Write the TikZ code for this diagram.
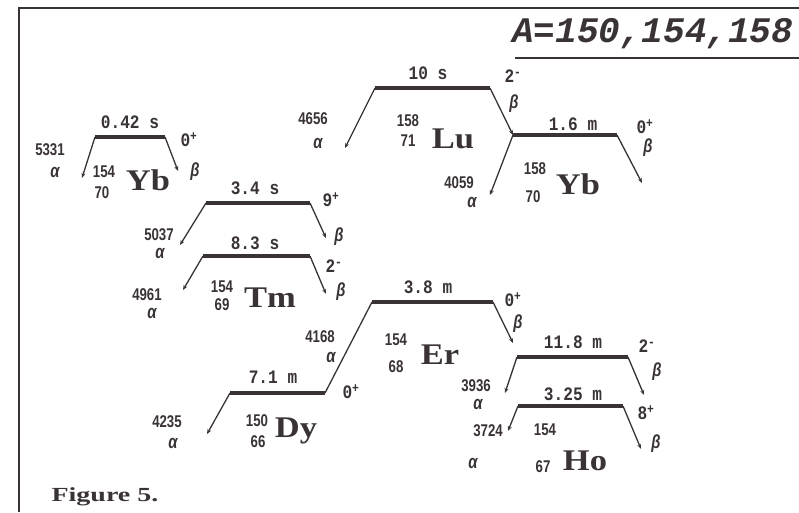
\documentclass[tikz,border=0pt]{standalone}
\usepackage{fontspec}
\setmainfont{Liberation Serif}
\newfontfamily\monofont[FakeStretch=0.85]{Liberation Mono}
\newfontfamily\titlefont{Liberation Mono}
\newfontfamily\numfont[FakeStretch=0.78]{Liberation Sans}
\newfontfamily\elemfont[FakeStretch=1.15]{Liberation Serif}
\newfontfamily\capfont[FakeStretch=1.4]{Liberation Serif}
\usetikzlibrary{arrows.meta, positioning}
\definecolor{ink}{RGB}{58,51,54}

\begin{document}
\begin{tikzpicture}[x=1pt, y=-1pt,
        % barras de nivel
        level/.style={draw=ink, line width=3.5pt},
        % lineas de decaimiento con punta
        decay/.style={draw=ink, line width=1.3pt, -{Stealth[length=5pt, width=4pt]}},
        % union sin punta
        link/.style={draw=ink, line width=1.3pt},
        % vida media y espin
        halflife/.style={text=ink, inner sep=0pt,
            font=\monofont\bfseries\fontsize{19}{19}\selectfont},
        % energias alfa y numeros A, Z
        energy/.style={text=ink, inner sep=0pt,
            font=\numfont\bfseries\fontsize{17}{17}\selectfont},
        greek/.style={text=ink, inner sep=0pt,
            font=\numfont\bfseries\itshape\fontsize{19}{19}\selectfont},
        element/.style={text=ink, inner sep=0pt,
            font=\elemfont\bfseries\fontsize{30}{30}\selectfont}
    ]
    \useasboundingbox (0,0) rectangle (799,512);

    % --- MARCO Y TITULO ---
    \draw[ink, line width=2pt] (19,512) -- (19,8) -- (799,8);
    \node[text=ink, anchor=west, inner sep=0pt,
        font=\titlefont\bfseries\itshape\fontsize{36}{36}\selectfont]
        (title) at (512,34) {A=150,154,158};
    \coordinate (ulL) at (515,58);
    \coordinate (ulR) at (799,58);
    \draw[ink, line width=2pt] (ulL) -- (ulR);

    % --- 154Yb ---
    \coordinate (yb154L) at (95,137);
    \coordinate (yb154R) at (165,137);
    \coordinate (yb154a) at (82,178);
    \coordinate (yb154b) at (178,171);
    \draw[level] (yb154L) -- (yb154R);
    \draw[decay] (yb154L) -- (yb154a);
    \draw[decay] (yb154R) -- (yb154b);
    \node[halflife] (yb154t) at (130,122) {0.42 s};
    \node[halflife] (yb154j) at (189,140) {0\textsuperscript{+}};
    \node[greek] (yb154be) at (195,172) {β};
    \node[energy] (yb154e) at (50,150) {5331};
    \node[greek] (yb154al) at (55,172) {α};
    \node[energy] (yb154A) at (104,172) {154};
    \node[energy] (yb154Z) at (102,193) {70};
    \node[element] (yb154s) at (148,180) {Yb};

    % --- 158Lu ---
    \coordinate (lu158L) at (375,88);
    \coordinate (lu158R) at (490,88);
    \coordinate (lu158a) at (345,148);
    \node[halflife] (lu158t) at (428,73) {10 s};
    \node[halflife] (lu158j) at (513,76) {2\textsuperscript{-}};
    \node[greek] (lu158be) at (514,104) {β};
    \node[energy] (lu158e) at (313,119) {4656};
    \node[greek] (lu158al) at (318,143) {α};
    \node[energy] (lu158A) at (408,121) {158};
    \node[energy] (lu158Z) at (408,141) {71};
    \node[element] (lu158s) at (453,139) {Lu};

    % --- 158Yb ---
    \coordinate (yb158L) at (513,135);
    \coordinate (yb158R) at (617,135);
    \coordinate (yb158a) at (490,195);
    \coordinate (yb158b) at (642,183);
    \draw[level] (lu158L) -- (lu158R);
    \draw[decay] (lu158L) -- (lu158a);
    \draw[decay] (lu158R) -- (yb158L);
    \draw[level] (yb158L) -- (yb158R);
    \draw[decay] (yb158L) -- (yb158a);
    \draw[decay] (yb158R) -- (yb158b);
    \node[halflife] (yb158t) at (573,124) {1.6 m};
    \node[halflife] (yb158j) at (645,127) {0\textsuperscript{+}};
    \node[greek] (yb158be) at (648,148) {β};
    \node[energy] (yb158e) at (459,183) {4059};
    \node[greek] (yb158al) at (472,202) {α};
    \node[energy] (yb158A) at (535,169) {158};
    \node[energy] (yb158Z) at (533,197) {70};
    \node[element] (yb158s) at (578,184) {Yb};

    % --- 154Tm (9+) ---
    \coordinate (tmhL) at (206,203);
    \coordinate (tmhR) at (310,203);
    \coordinate (tmha) at (180,245);
    \coordinate (tmhb) at (326,238);
    \draw[level] (tmhL) -- (tmhR);
    \draw[decay] (tmhL) -- (tmha);
    \draw[decay] (tmhR) -- (tmhb);
    \node[halflife] (tmht) at (255,188) {3.4 s};
    \node[halflife] (tmhj) at (331,200) {9\textsuperscript{+}};
    \node[greek] (tmhbe) at (339,237) {β};
    \node[energy] (tmhe) at (159,235) {5037};
    \node[greek] (tmhal) at (160,253) {α};

    % --- 154Tm (2-) ---
    \coordinate (tmlL) at (203,256);
    \coordinate (tmlR) at (310,256);
    \coordinate (tmla) at (183,290);
    \coordinate (tmlb) at (326,294);
    \draw[level] (tmlL) -- (tmlR);
    \draw[decay] (tmlL) -- (tmla);
    \draw[decay] (tmlR) -- (tmlb);
    \node[halflife] (tmlt) at (255,243) {8.3 s};
    \node[halflife] (tmlj) at (334,266) {2\textsuperscript{-}};
    \node[greek] (tmlbe) at (341,292) {β};
    \node[energy] (tmle) at (147,295) {4961};
    \node[greek] (tmlal) at (152,313) {α};
    \node[energy] (tmA) at (222,287) {154};
    \node[energy] (tmZ) at (222,305) {69};
    \node[element] (tms) at (270,298) {Tm};

    % --- 150Dy ---
    \coordinate (dyL) at (230,393);
    \coordinate (dyR) at (325,393);
    \coordinate (dya) at (207,434);
    \draw[level] (dyL) -- (dyR);
    \draw[decay] (dyL) -- (dya);
    \node[halflife] (dyt) at (273,377) {7.1 m};
    \node[halflife] (dyj) at (351,392) {0\textsuperscript{+}};
    \node[energy] (dye) at (167,422) {4235};
    \node[greek] (dyal) at (173,443) {α};
    \node[energy] (dyA) at (257,421) {150};
    \node[energy] (dyZ) at (258,442) {66};
    \node[element] (dys) at (296,431) {Dy};

    % --- 154Er ---
    \coordinate (erL) at (372,302);
    \coordinate (erR) at (493,302);
    \coordinate (erb) at (513,343);
    \draw[level] (erL) -- (erR);
    \draw[link] (erL) -- (dyR);
    \draw[decay] (erR) -- (erb);
    \node[halflife] (ert) at (428,287) {3.8 m};
    \node[halflife] (erj) at (513,300) {0\textsuperscript{+}};
    \node[greek] (erbe) at (518,324) {β};
    \node[energy] (ere) at (320,337) {4168};
    \node[greek] (eral) at (331,357) {α};
    \node[energy] (erA) at (396,340) {154};
    \node[energy] (erZ) at (396,367) {68};
    \node[element] (ers) at (440,355) {Er};

    % --- 154Ho (2-) ---
    \coordinate (hohL) at (517,357);
    \coordinate (hohR) at (628,357);
    \coordinate (hoha) at (505,393);
    \coordinate (hohb) at (644,395);
    \draw[level] (hohL) -- (hohR);
    \draw[decay] (hohL) -- (hoha);
    \draw[decay] (hohR) -- (hohb);
    \node[halflife] (hoht) at (573,342) {11.8 m};
    \node[halflife] (hohj) at (647,346) {2\textsuperscript{-}};
    \node[greek] (hohbe) at (657,372) {β};
    \node[energy] (hohe) at (476,386) {3936};
    \node[greek] (hohal) at (478,404) {α};

    % --- 154Ho (8+) ---
    \coordinate (holL) at (518,406);
    \coordinate (holR) at (623,406);
    \coordinate (hola) at (508,431);
    \coordinate (holb) at (641,449);
    \draw[level] (holL) -- (holR);
    \draw[decay] (holL) -- (hola);
    \draw[decay] (holR) -- (holb);
    \node[halflife] (holt) at (573,394) {3.25 m};
    \node[halflife] (holj) at (646,413) {8\textsuperscript{+}};
    \node[greek] (holbe) at (656,444) {β};
    \node[energy] (hole) at (488,431) {3724};
    \node[greek] (holal) at (473,463) {α};
    \node[energy] (hoA) at (545,430) {154};
    \node[energy] (hoZ) at (543,467) {67};
    \node[element] (hos) at (585,461) {Ho};

    % --- PIE ---
    \node[text=ink, inner sep=0pt,
        font=\capfont\bfseries\fontsize{20}{20}\selectfont]
        (caption) at (105,497) {Figure 5.};

\end{tikzpicture}
\end{document}
